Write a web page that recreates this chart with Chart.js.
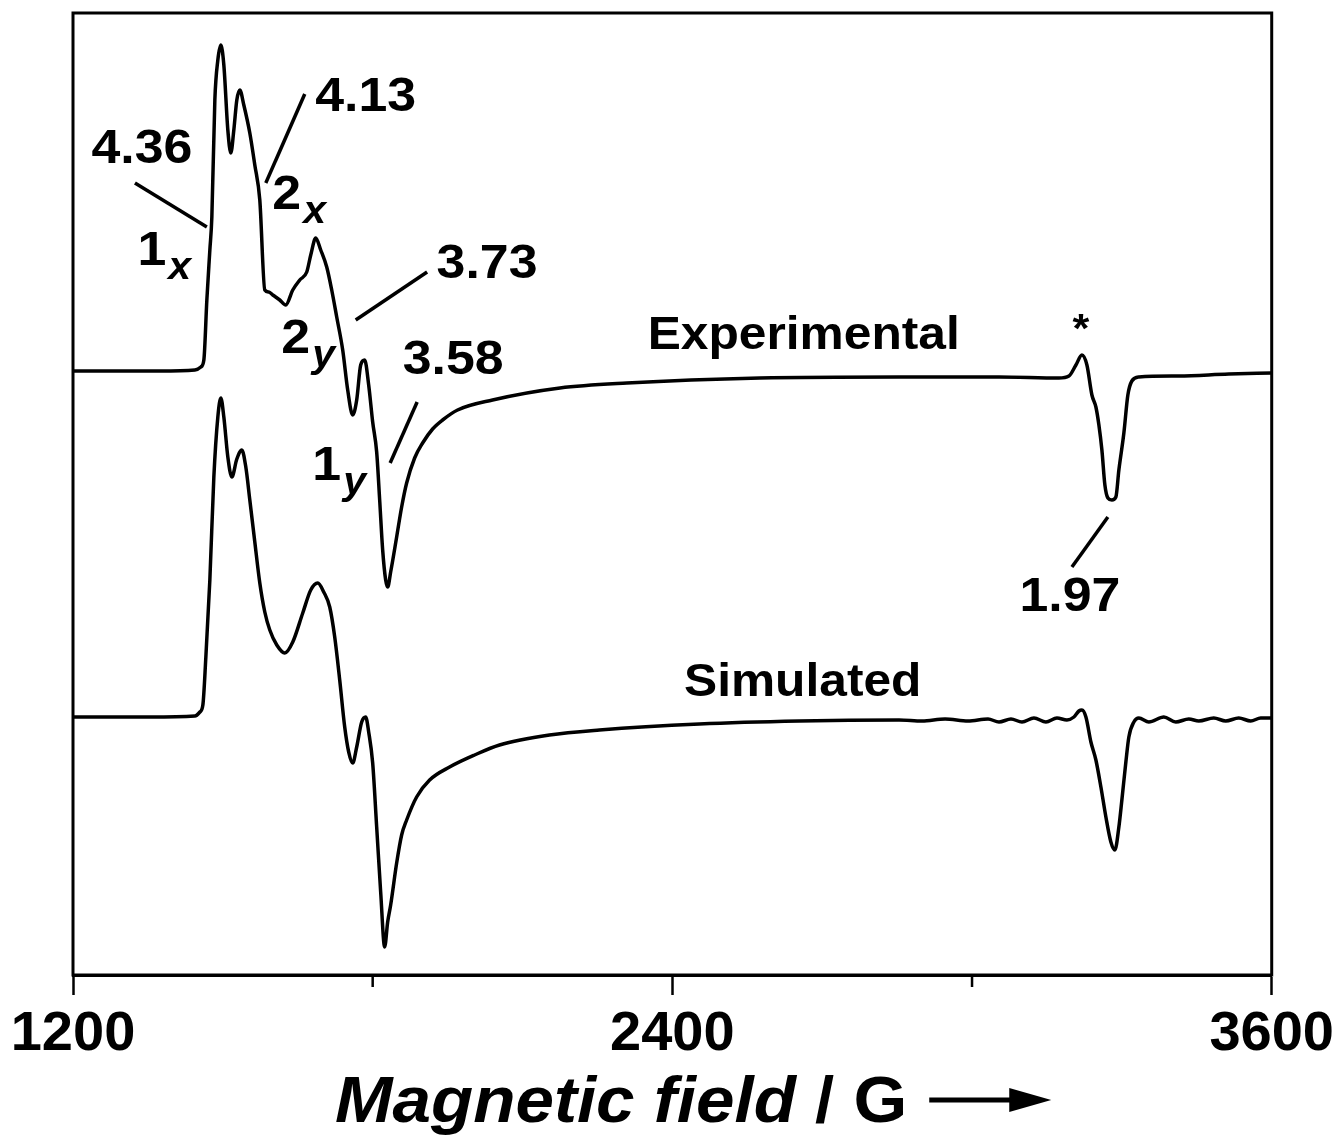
<!DOCTYPE html>
<html lang="en">
<head>
  <meta charset="UTF-8" />
  <title>EPR spectrum</title>
  <script src="https://cdn.jsdelivr.net/npm/chart.js"></script>
  <style>
    body {
      margin: 0;
      background: #fff;
    }
    .chart-container {
      width: 1340px;
      height: 1140px;
    }
  </style>
</head>
<body>
  <div class="chart-container">
    <canvas id="eprChart"></canvas>
  </div>

  <script>
    // magnetic field (G) and signal (a.u.)
    const expField = [1200, 1294, 1374, 1444, 1456, 1462, 1468, 1474, 1478, 1484, 1490, 1496, 1502, 1510, 1516, 1522, 1528, 1534, 1542, 1554, 1564, 1574, 1584, 1592, 1600, 1614, 1626, 1640, 1654, 1668, 1676, 1686, 1696, 1708, 1718, 1728, 1740, 1750, 1760, 1768, 1776, 1784, 1792, 1800, 1808, 1814, 1820, 1826, 1830, 1836, 1848, 1858, 1868, 1884, 1900, 1920, 1940, 1970, 2040, 2175, 2309, 2575, 2854, 3054, 3174, 3194, 3208, 3220, 3230, 3240, 3248, 3254, 3260, 3266, 3272, 3280, 3288, 3294, 3304, 3312, 3320, 3334, 3414, 3514, 3600];
    const expSignal = [1, 1, 1, 2, 5, 12, 72, 122, 155, 272, 312, 327, 307, 242, 219, 242, 272, 282, 267, 239, 207, 172, 82, 80, 77, 72, 67, 82, 92, 100, 117, 134, 122, 105, 82, 55, 22, -18, -43, -28, 7, 12, -13, -50, -80, -128, -178, -208, -215, -200, -165, -135, -111, -86, -71, -57, -48, -38, -28, -16, -11, -6, -5, -5, -6, -4, 7, 17, 7, -23, -35, -53, -78, -113, -126, -128, -125, -98, -61, -23, -9, -5, -4, -2, -1];

    const simField = [1200, 1354, 1444, 1454, 1460, 1466, 1474, 1482, 1490, 1496, 1502, 1510, 1518, 1528, 1538, 1546, 1554, 1564, 1574, 1584, 1594, 1608, 1624, 1640, 1660, 1676, 1690, 1702, 1714, 1724, 1734, 1744, 1752, 1760, 1768, 1778, 1786, 1792, 1800, 1808, 1816, 1824, 1830, 1836, 1848, 1858, 1868, 1888, 1914, 1954, 2004, 2054, 2154, 2254, 2454, 2654, 2854, 2900, 2946, 2992, 3032, 3054, 3078, 3100, 3124, 3148, 3170, 3190, 3204, 3214, 3220, 3228, 3238, 3248, 3258, 3268, 3278, 3286, 3294, 3300, 3308, 3314, 3324, 3334, 3354, 3384, 3408, 3434, 3454, 3484, 3508, 3534, 3558, 3578, 3600];
    const simSignal = [0, 0, 1, 5, 12, 60, 137, 240, 300, 319, 300, 260, 240, 258, 267, 250, 217, 175, 134, 105, 87, 72, 64, 75, 104, 127, 134, 125, 110, 80, 37, -10, -35, -46, -30, -5, 0, -15, -46, -110, -175, -230, -205, -188, -146, -118, -103, -80, -63, -50, -38, -28, -18, -13, -7, -4, -3, -4, -2, -4, -2, -5, -2, -5, -1, -5, -1, -3, 0, 6, 7, 0, -25, -43, -70, -100, -125, -133, -110, -83, -45, -20, -5, -1, -5, 0, -5, -2, -4, -1, -4, -1, -4, -1, -1];

    const simOffset = -345;
    const xTickLabels = [1200, 2400, 3600];

    // g-value labels and leader lines, placed in field / signal units
    const notes = [
      { text: '4.36', g: 1338, i: 222 },
      { text: '1', sub: 'x', g: 1358, i: 120 },
      { text: '4.13', g: 1786, i: 274 },
      { text: '2', sub: 'x', g: 1628, i: 176 },
      { text: '3.73', g: 2029, i: 107 },
      { text: '2', sub: 'y', g: 1646, i: 32 },
      { text: '3.58', g: 1961, i: 11 },
      { text: '1', sub: 'y', g: 1708, i: -95 },
      { text: '*', g: 3218, i: 41, size: 40 },
      { text: '1.97', g: 3196, i: -226 },
      { text: 'Experimental', g: 2663, i: 36, size: 46 },
      { text: 'Simulated', g: 2661, i: -311, size: 46 }
    ];
    const leaders = [
      [1324, 189, 1468, 145],
      [1664, 278, 1586, 189],
      [1909, 100, 1766, 52],
      [1889, -30, 1835, -91],
      [3272, -145, 3200, -195]
    ];

    const FONT = '"Liberation Sans", Arial, sans-serif';
    const STRETCH = 1.08;

    function stretchedText(ctx, str, x, y) {
      ctx.save();
      ctx.translate(x, y);
      ctx.scale(STRETCH, 1);
      ctx.fillText(str, 0, 0);
      ctx.restore();
    }

    const decorations = {
      id: 'decorations',
      afterDraw(chart) {
        const ctx = chart.ctx;
        const xs = chart.scales.x, ys = chart.scales.y;
        const area = chart.chartArea;

        ctx.save();
        ctx.strokeStyle = '#000';
        ctx.fillStyle = '#000';

        // frame
        ctx.lineWidth = 3;
        ctx.strokeRect(area.left, area.top, area.right - area.left, area.bottom - area.top);

        // minor ticks
        ctx.lineWidth = 2.5;
        [1800, 3000].forEach(v => {
          const px = xs.getPixelForValue(v);
          ctx.beginPath();
          ctx.moveTo(px, area.bottom);
          ctx.lineTo(px, area.bottom + 12);
          ctx.stroke();
        });

        // leader lines
        ctx.lineWidth = 3.5;
        leaders.forEach(l => {
          ctx.beginPath();
          ctx.moveTo(xs.getPixelForValue(l[0]), ys.getPixelForValue(l[1]));
          ctx.lineTo(xs.getPixelForValue(l[2]), ys.getPixelForValue(l[3]));
          ctx.stroke();
        });

        // labels
        ctx.textBaseline = 'middle';
        notes.forEach(n => {
          const px = xs.getPixelForValue(n.g);
          const py = ys.getPixelForValue(n.i);
          const size = n.size || 48;
          ctx.font = 'bold ' + size + 'px ' + FONT;
          ctx.textAlign = 'center';
          stretchedText(ctx, n.text, px, py);
          if (n.sub) {
            const w = ctx.measureText(n.text).width * STRETCH;
            ctx.font = 'italic bold 38px ' + FONT;
            ctx.textAlign = 'left';
            stretchedText(ctx, n.sub, px + w / 2 + 2, py + 17);
          }
        });

        // axis title
        const baseY = 1122;
        let x = 335;
        ctx.textAlign = 'left';
        ctx.textBaseline = 'alphabetic';
        ctx.font = 'italic bold 64px ' + FONT;
        stretchedText(ctx, 'Magnetic field', x, baseY);
        x += ctx.measureText('Magnetic field ').width * STRETCH;
        ctx.font = 'bold 64px ' + FONT;
        stretchedText(ctx, '/ G', x, baseY);
        x += ctx.measureText('/ G').width * STRETCH + 22;

        // arrow
        const ay = 1100;
        ctx.lineWidth = 5;
        ctx.beginPath();
        ctx.moveTo(x, ay);
        ctx.lineTo(x + 88, ay);
        ctx.stroke();
        ctx.beginPath();
        ctx.moveTo(x + 80, ay - 12);
        ctx.lineTo(x + 122, ay);
        ctx.lineTo(x + 80, ay + 12);
        ctx.closePath();
        ctx.fill();

        ctx.restore();
      }
    };

    const toPoints = (fx, sy, off) => fx.map((f, k) => ({ x: f, y: sy[k] + off }));

    new Chart(document.getElementById('eprChart'), {
      type: 'line',
      data: {
        datasets: [
          {
            label: 'Experimental',
            data: toPoints(expField, expSignal, 0),
            borderColor: '#000',
            borderWidth: 3.5,
            pointRadius: 0,
            cubicInterpolationMode: 'monotone',
            fill: false
          },
          {
            label: 'Simulated',
            data: toPoints(simField, simSignal, simOffset),
            borderColor: '#000',
            borderWidth: 3.5,
            pointRadius: 0,
            cubicInterpolationMode: 'monotone',
            fill: false
          }
        ]
      },
      options: {
        responsive: true,
        maintainAspectRatio: false,
        animation: false,
        layout: {
          padding: { left: 73, right: 68, top: 13, bottom: 0 }
        },
        plugins: {
          legend: { display: false },
          tooltip: { enabled: false }
        },
        scales: {
          x: {
            type: 'linear',
            min: 1200,
            max: 3600,
            afterFit(scale) { scale.height = 165; },
            ticks: {
              stepSize: 600,
              autoSkip: false,
              maxRotation: 0,
              padding: 6,
              color: '#000',
              font: { family: FONT, size: 56, weight: 'bold' },
              callback: v => xTickLabels.includes(v) ? String(v) : ''
            },
            grid: {
              drawOnChartArea: false,
              drawTicks: true,
              tickLength: 20,
              tickWidth: 2.5,
              tickColor: c => (c.tick && xTickLabels.includes(c.tick.value)) ? '#000' : 'rgba(0,0,0,0)'
            },
            border: { display: true, color: '#000', width: 3 }
          },
          y: {
            display: false,
            min: -603,
            max: 359
          }
        }
      },
      plugins: [decorations]
    });
  </script>
</body>
</html>
